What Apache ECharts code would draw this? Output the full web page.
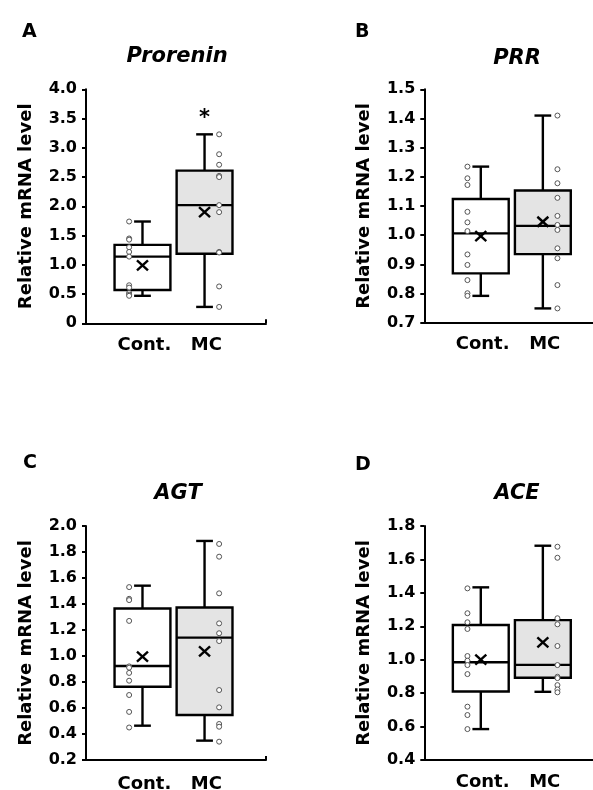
<!DOCTYPE html>
<html><head><meta charset="utf-8">
<script src="https://cdn.jsdelivr.net/npm/echarts@6/dist/echarts.min.js"></script>
<style>html,body{margin:0;padding:0;background:#fff}#c{width:593px;height:790px}</style>
</head><body><div id="c"></div>
<script>
// ---- data ----
const groups = ['Cont.', 'MC'];
const panelLetters = ['A', 'B', 'C', 'D'];
const genes = ['Prorenin', 'PRR', 'AGT', 'ACE'];
const yAxisName = 'Relative mRNA level';

// y tick values per panel
const yTicksA = [0, 0.5, 1.0, 1.5, 2.0, 2.5, 3.0, 3.5, 4.0];
const yTicksB = [0.7, 0.8, 0.9, 1.0, 1.1, 1.2, 1.3, 1.4, 1.5];
const yTicksC = [0.2, 0.4, 0.6, 0.8, 1.0, 1.2, 1.4, 1.6, 1.8, 2.0];
const yTicksD = [0.4, 0.6, 0.8, 1.0, 1.2, 1.4, 1.6, 1.8];

// box stats [min, Q1, median, Q3, max] for Cont. and MC
const boxA = [[0.47, 0.57, 1.14, 1.34, 1.74], [0.28, 1.19, 2.02, 2.61, 3.23]];
const boxB = [[0.792, 0.869, 1.006, 1.124, 1.235], [0.749, 0.935, 1.032, 1.153, 1.41]];
const boxC = [[0.464, 0.764, 0.923, 1.365, 1.541], [0.349, 0.546, 1.141, 1.373, 1.885]];
const boxD = [[0.585, 0.81, 0.985, 1.208, 1.433], [0.808, 0.892, 0.969, 1.237, 1.682]];

// means (x marks)
const meanA = [0.99, 1.90];
const meanB = [0.997, 1.046];
const meanC = [0.995, 1.036];
const meanD = [1.00, 1.104];

// individual points
const ptsContA = [1.74, 1.45, 1.43, 1.30, 1.22, 1.14, 0.65, 0.61, 0.52, 0.49, 0.47];
const ptsMCA = [3.23, 2.89, 2.71, 2.52, 2.50, 2.02, 1.90, 1.22, 1.21, 0.63, 0.28];
const ptsContB = [1.235, 1.195, 1.172, 1.080, 1.044, 1.014, 0.934, 0.898, 0.846, 0.801, 0.792];
const ptsMCB = [1.41, 1.226, 1.178, 1.128, 1.066, 1.035, 1.018, 0.955, 0.921, 0.829, 0.749];
const ptsContC = [1.53, 1.44, 1.43, 1.27, 0.92, 0.91, 0.87, 0.81, 0.70, 0.57, 0.45];
const ptsMCC = [1.862, 1.764, 1.482, 1.251, 1.175, 1.115, 0.738, 0.605, 0.477, 0.456, 0.341];
const ptsContD = [1.427, 1.278, 1.224, 1.184, 1.022, 0.994, 0.968, 0.914, 0.719, 0.669, 0.585];
const ptsMCD = [1.676, 1.61, 1.248, 1.212, 1.082, 0.968, 0.898, 0.89, 0.848, 0.822, 0.805];

// significance marks
const sigA = ['', '*'];
const sigB = ['', ''];
const sigC = ['', ''];
const sigD = ['', ''];

// ---- layout / build ----
const FONT = 'DejaVu Sans';
const panels = [
  {ticks: yTicksA, box: boxA, mean: meanA, pc: ptsContA, pm: ptsMCA, sig: sigA,
   grid: {left: 86, top: 89.3, width: 180, height: 234}, letter: [22, 33.5], title: [177, 56.5], lm: 13},
  {ticks: yTicksB, box: boxB, mean: meanB, pc: ptsContB, pm: ptsMCB, sig: sigB,
   grid: {left: 424.3, top: 89.3, width: 180, height: 233.4}, letter: [355, 33.5], title: [517, 59], lm: 13},
  {ticks: yTicksC, box: boxC, mean: meanC, pc: ptsContC, pm: ptsMCC, sig: sigC,
   grid: {left: 86, top: 526, width: 180, height: 234}, letter: [23, 465], title: [178, 493.5], lm: 15},
  {ticks: yTicksD, box: boxD, mean: meanD, pc: ptsContD, pm: ptsMCD, sig: sigD,
   grid: {left: 424.3, top: 526, width: 180, height: 234}, letter: [355, 467], title: [517, 493.5], lm: 13}
];

const XMIN = -0.91, XMAX = 1.99;
const BOXW = 0.9, CAPW = 0.27;
const PT_OFF = [-0.215, 0.235];
const FILLS = ['#ffffff', '#e4e4e4'];

function makeRender(sigArr) {
  return function (params, api) {
    const x = api.value(0);
    const lo = api.coord([x, api.value(1)]);
    const q1 = api.coord([x, api.value(2)]);
    const md = api.coord([x, api.value(3)]);
    const q3 = api.coord([x, api.value(4)]);
    const hi = api.coord([x, api.value(5)]);
    const mn = api.coord([x, api.value(6)]);
    const w = api.size([BOXW, 0])[0];
    const cw = api.size([CAPW, 0])[0];
    const cx = lo[0];
    const st = {stroke: '#000', lineWidth: 2.4, fill: null};
    const sig = sigArr[params.dataIndex];
    const ch = [
      {type: 'line', shape: {x1: cx, y1: q3[1], x2: cx, y2: hi[1]}, style: st},
      {type: 'line', shape: {x1: cx - cw / 2, y1: hi[1], x2: cx + cw / 2, y2: hi[1]}, style: st},
      {type: 'line', shape: {x1: cx, y1: q1[1], x2: cx, y2: lo[1]}, style: st},
      {type: 'line', shape: {x1: cx - cw / 2, y1: lo[1], x2: cx + cw / 2, y2: lo[1]}, style: st},
      {type: 'rect', shape: {x: cx - w / 2, y: q3[1], width: w, height: q1[1] - q3[1]},
       style: {stroke: '#000', lineWidth: 2.4, fill: FILLS[x]}},
      {type: 'line', shape: {x1: cx - w / 2, y1: md[1], x2: cx + w / 2, y2: md[1]}, style: st},
      {type: 'line', shape: {x1: cx - 5.5, y1: mn[1] - 5, x2: cx + 5.5, y2: mn[1] + 5}, style: st},
      {type: 'line', shape: {x1: cx - 5.5, y1: mn[1] + 5, x2: cx + 5.5, y2: mn[1] - 5}, style: st}
    ];
    if (sig) {
      ch.push({type: 'text', style: {text: sig, x: cx, y: hi[1] - 16, align: 'center', verticalAlign: 'middle',
        fontFamily: FONT, fontWeight: 'bold', fontSize: 21, fill: '#000'}});
    }
    return {type: 'group', children: ch};
  };
}

const grids = [], xAxes = [], yAxes = [], series = [], graphics = [];
panels.forEach((p, i) => {
  grids.push(Object.assign({outerBoundsMode: 'none', containLabel: false}, p.grid));
  const t = p.ticks;
  const step = Math.round((t[1] - t[0]) * 1000) / 1000;
  xAxes.push({
    gridIndex: i, type: 'value', min: XMIN, max: XMAX, splitLine: {show: false},
    axisLine: {show: true, onZero: false, lineStyle: {color: '#000', width: 2}},
    axisTick: {show: true, inside: true, length: 4, customValues: [XMAX], lineStyle: {color: '#000', width: 2}},
    axisLabel: {customValues: [0.03, 1.03], formatter: v => groups[Math.round(v)], margin: p.lm,
      fontFamily: FONT, fontWeight: 'bold', fontSize: 18, color: '#000'}
  });
  yAxes.push({
    gridIndex: i, type: 'value', min: t[0], max: t[t.length - 1], interval: step, splitLine: {show: false},
    axisLine: {show: true, onZero: false, lineStyle: {color: '#000', width: 2}},
    axisTick: {show: true, length: 4, lineStyle: {color: '#000', width: 2}},
    axisLabel: {fontFamily: FONT, fontWeight: 'bold', fontSize: 16, color: '#000', margin: 9,
      formatter: v => (Math.abs(v) < 1e-9 ? '0' : v.toFixed(1))},
    name: yAxisName, nameLocation: 'middle', nameGap: 51,
    nameTextStyle: {fontFamily: FONT, fontWeight: 'bold', fontSize: 18, color: '#000'}
  });
  series.push({
    type: 'custom', xAxisIndex: i, yAxisIndex: i, renderItem: makeRender(p.sig), silent: true,
    encode: {x: 0, y: [1, 2, 3, 4, 5, 6]},
    data: [0, 1].map(g => [g].concat(p.box[g], [p.mean[g]]))
  });
  [p.pc, p.pm].forEach((arr, g) => {
    series.push({
      type: 'scatter', xAxisIndex: i, yAxisIndex: i, symbol: 'circle', symbolSize: 5, silent: true,
      itemStyle: {color: '#fff', borderColor: '#555', borderWidth: 1, opacity: 1},
      data: arr.map(v => [g + PT_OFF[g], v]), z: 5
    });
  });
  graphics.push({type: 'text', left: p.letter[0], top: p.letter[1] - 11,
    style: {text: panelLetters[i], fontFamily: FONT, fontWeight: 'bold', fontSize: 19, fill: '#000'}});
  graphics.push({type: 'text', x: p.title[0], y: p.title[1],
    style: {text: genes[i], fontFamily: FONT, fontWeight: 'bold', fontStyle: 'italic', fontSize: 21,
      fill: '#000', align: 'center', verticalAlign: 'middle'}});
});

const chart = echarts.init(document.getElementById('c'), null, {renderer: 'canvas'});
chart.setOption({
  backgroundColor: '#fff', animation: false,
  grid: grids, xAxis: xAxes, yAxis: yAxes, series: series, graphic: graphics
});
</script>
</body></html>
